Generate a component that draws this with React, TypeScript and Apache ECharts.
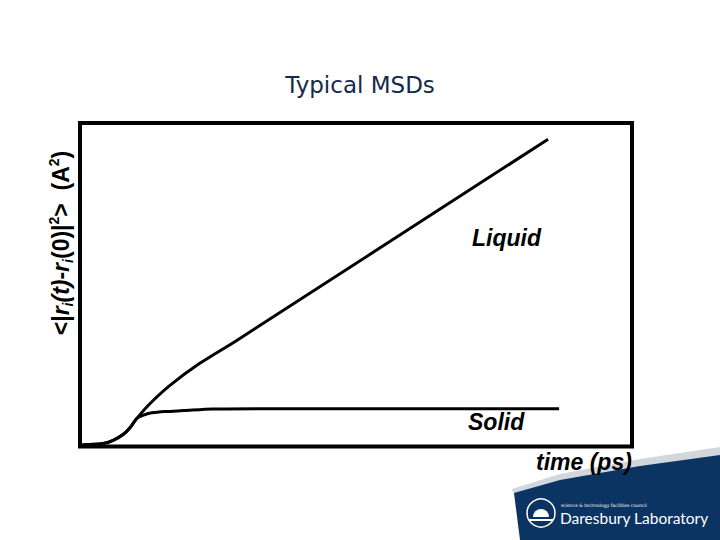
import React, { useEffect, useRef } from "react";
import * as echarts from "echarts";

// time (arbitrary ps units) and MSD (arbitrary Å^2 units)
const liquidTime = [0.04, 0.42, 0.6, 0.78, 0.91, 1.03, 1.27, 1.63, 2.17, 2.84, 8.48];
const liquidMSD = [0.05, 0.09, 0.19, 0.37, 0.59, 0.87, 1.33, 1.89, 2.57, 3.28, 9.5];
const solidTime = [0.04, 0.42, 0.6, 0.78, 0.91, 1.03, 1.18, 1.3, 1.54, 1.87, 2.41, 3.26, 8.68];
const solidMSD = [0.05, 0.09, 0.19, 0.37, 0.59, 0.87, 0.99, 1.04, 1.08, 1.11, 1.16, 1.17, 1.17];

const title = "Typical MSDs";
const xName = "time (ps)";
const liquidLabel = "Liquid";
const solidLabel = "Solid";

export default function App() {
  const ref = useRef<HTMLDivElement>(null);
  useEffect(() => {
    if (!ref.current) return;
    const chart = echarts.init(ref.current, null, { renderer: "svg" });
    const toPairs = (xs: number[], ys: number[]) => xs.map((x, i) => [x, ys[i]]);
    const italicLabel = {
      fontFamily: "Liberation Sans, Arial, sans-serif",
      fontStyle: "italic",
      fontWeight: "bold",
      fontSize: 23,
      fill: "#000",
      textShadowColor: "rgba(120,120,120,0.6)",
      textShadowOffsetX: 1,
      textShadowOffsetY: 1,
    };
    const lab = "Liberation Sans, Arial, sans-serif";
    chart.setOption({
      animation: false,
      backgroundColor: "#fff",
      grid: {
        show: true,
        left: 80,
        right: 88,
        top: 123,
        bottom: 93.5,
        borderColor: "#000",
        borderWidth: 4,
        backgroundColor: "transparent",
      },
      xAxis: {
        type: "value",
        min: 0,
        max: 10,
        axisLine: { show: false },
        axisTick: { show: false },
        axisLabel: { show: false },
        splitLine: { show: false },
      },
      yAxis: {
        type: "value",
        min: 0,
        max: 10,
        axisLine: { show: false },
        axisTick: { show: false },
        axisLabel: { show: false },
        splitLine: { show: false },
      },
      series: [
        {
          name: liquidLabel,
          type: "line",
          data: toPairs(liquidTime, liquidMSD),
          showSymbol: false,
          symbol: "none",
          smooth: 0.3,
          lineStyle: { color: "#000", width: 3 },
        },
        {
          name: solidLabel,
          type: "line",
          data: toPairs(solidTime, solidMSD),
          showSymbol: false,
          symbol: "none",
          smooth: 0.3,
          lineStyle: { color: "#000", width: 3 },
        },
      ],
      graphic: [
        {
          type: "text",
          left: "center",
          top: 73,
          style: {
            text: title,
            fontFamily: "DejaVu Sans, Verdana, sans-serif",
            fontSize: 23,
            fill: "#15294a",
          },
        },
        {
          type: "text",
          x: 61,
          y: 243,
          rotation: Math.PI / 2,
          style: {
            text: "{n|<|}{it|r}{sub|i}{it|(t)}{n|-}{it|r}{sub|i}{n|(0)|}{sup|2}{n|>  (A}{sup|2}{n|)}",
            align: "center",
            verticalAlign: "middle",
            fill: "#000",
            rich: {
              n: { fontFamily: lab, fontWeight: "bold", fontSize: 23, lineHeight: 28, fill: "#000" },
              it: { fontFamily: lab, fontWeight: "bold", fontStyle: "italic", fontSize: 23, lineHeight: 28, fill: "#000" },
              sub: { fontFamily: lab, fontWeight: "bold", fontStyle: "italic", fontSize: 14, lineHeight: 28, verticalAlign: "bottom", fill: "#000" },
              sup: { fontFamily: lab, fontWeight: "bold", fontSize: 14, lineHeight: 28, verticalAlign: "top", fill: "#000" },
            },
          },
        },
        { type: "text", x: 472, y: 226, style: { text: liquidLabel, ...italicLabel } },
        { type: "text", x: 468, y: 410, style: { text: solidLabel, ...italicLabel } },
        { type: "text", x: 536, y: 450, style: { text: xName, ...italicLabel } },
        // footer band
        {
          type: "polygon",
          shape: { points: [[512, 489], [560, 474], [640, 459], [720, 447], [720, 458], [640, 468], [560, 482], [514, 495]] },
          style: { fill: "#d2d7de" },
          z: -1,
        },
        {
          type: "polygon",
          shape: { points: [[520, 540], [514, 493], [560, 480], [640, 466], [720, 455], [720, 540]] },
          style: { fill: "#0b3462" },
          z: -1,
        },
        {
          type: "circle",
          shape: { cx: 541, cy: 513, r: 14 },
          style: { fill: "none", stroke: "#fff", lineWidth: 1.5 },
        },
        {
          type: "sector",
          shape: { cx: 541, cy: 517, r: 8, r0: 0, startAngle: Math.PI, endAngle: Math.PI * 2 },
          style: { fill: "#fff" },
        },
        {
          type: "rect",
          shape: { x: 529, y: 519, width: 24, height: 2 },
          style: { fill: "#fff" },
        },
        {
          type: "text",
          x: 561,
          y: 503,
          style: { text: "science & technology facilities council", fontFamily: "DejaVu Sans, sans-serif", fontSize: 4.5, fill: "#fff" },
        },
        {
          type: "text",
          x: 560,
          y: 510,
          style: { text: "Daresbury Laboratory", fontFamily: "Lato, Open Sans, sans-serif", fontSize: 15.5, fill: "#fff" },
        },
      ],
    });
    return () => chart.dispose();
  }, []);
  return (
    <div
      ref={ref}
      style={{ position: "absolute", left: 0, top: 0, width: 720, height: 540 }}
    />
  );
}
